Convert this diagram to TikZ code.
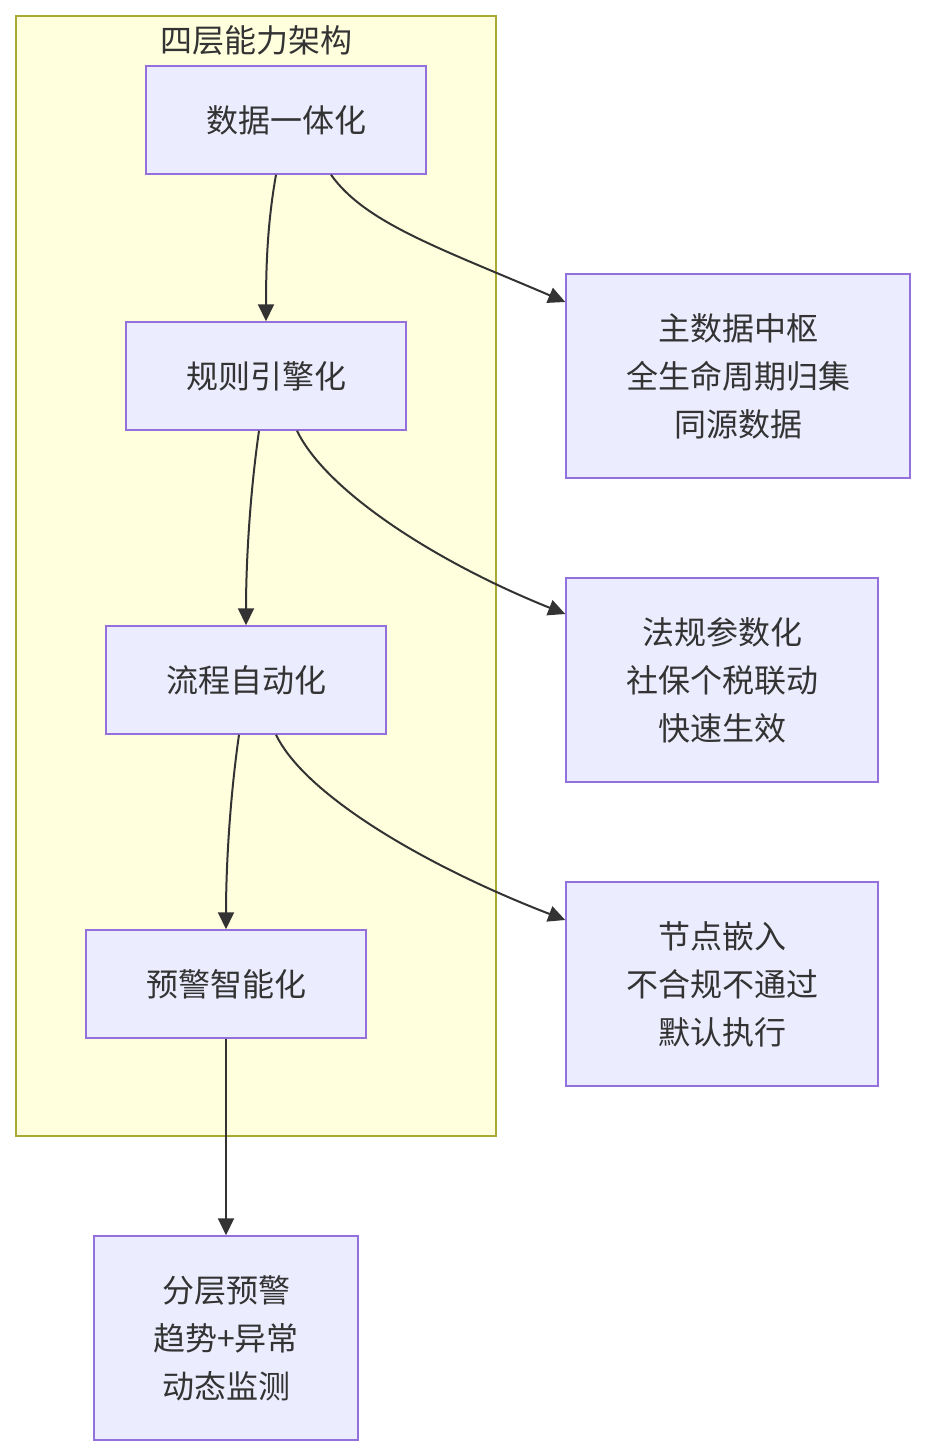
\documentclass[tikz,border=0pt]{standalone}
\usepackage{fontspec}
\setmainfont{Noto Sans CJK SC}
\usetikzlibrary{arrows.meta,calc}
\definecolor{nodefill}{HTML}{ECECFF}
\definecolor{nodeline}{HTML}{9370DB}
\definecolor{clfill}{HTML}{FFFFDE}
\definecolor{clline}{HTML}{AAAA33}
\definecolor{txt}{HTML}{333333}
\tikzset{
  box/.style={draw=nodeline, fill=nodefill, line width=1.5pt, text=txt, font=\fontsize{32}{48}\selectfont, align=center, inner sep=0pt, minimum width=#1},
  conn/.style={draw=txt, line width=2pt, -{Triangle[length=17pt,width=16pt]}},
}
\begin{document}
\begin{tikzpicture}[x=1pt,y=-1pt]
\useasboundingbox (0,0) rectangle (926,1456);
\fill[white] (0,0) rectangle (926,1456);
\draw[fill=clfill, draw=clline, line width=1.5pt] (16,16) rectangle (496,1136);
\node[text=txt, font=\fontsize{32}{36}\selectfont] (title) at (256,40) {四层能力架构};
\node[box=280pt, minimum height=108pt] (a) at (286,120) {数据一体化};
\node[box=280pt, minimum height=108pt] (b) at (266,376) {规则引擎化};
\node[box=280pt, minimum height=108pt] (c) at (246,680) {流程自动化};
\node[box=280pt, minimum height=108pt] (d) at (226,984) {预警智能化};
\node[box=344pt, minimum height=204pt] (e) at (738,376) {主数据中枢\\全生命周期归集\\同源数据};
\node[box=312pt, minimum height=204pt] (f) at (722,680) {法规参数化\\社保个税联动\\快速生效};
\node[box=312pt, minimum height=204pt] (g) at (722,984) {节点嵌入\\不合规不通过\\默认执行};
\node[box=264pt, minimum height=204pt] (h) at (226,1338) {分层预警\\趋势+异常\\动态监测};
\coordinate (a1) at ([xshift=-10pt]a.south);
\coordinate (a2) at ([xshift=45pt]a.south);
\coordinate (e1) at ([yshift=74pt]e.west);
\coordinate (b1) at ([xshift=-7pt]b.south);
\coordinate (b2) at ([xshift=31pt]b.south);
\coordinate (f1) at ([yshift=66pt]f.west);
\coordinate (c1) at ([xshift=-7pt]c.south);
\coordinate (c2) at ([xshift=30pt]c.south);
\coordinate (g1) at ([yshift=64pt]g.west);
\draw[conn] (a1) .. controls ($(a1)+(-8,45)$) and ($(b.north)+(0,-60)$) .. (b.north);
\draw[conn] (a2) .. controls ($(a2)+(34,48)$) and ($(e1)+(-126,-54)$) .. (e1);
\draw[conn] (b1) .. controls ($(b1)+(-10,70)$) and ($(c.north)+(0,-56)$) .. (c.north);
\draw[conn] (b2) .. controls ($(b2)+(30,62)$) and ($(f1)+(-125,-50)$) .. (f1);
\draw[conn] (c1) .. controls ($(c1)+(-10,70)$) and ($(d.north)+(0,-56)$) .. (d.north);
\draw[conn] (c2) .. controls ($(c2)+(30,62)$) and ($(g1)+(-135,-52)$) .. (g1);
\draw[conn] (d.south) -- (h.north);
\end{tikzpicture}
\end{document}
